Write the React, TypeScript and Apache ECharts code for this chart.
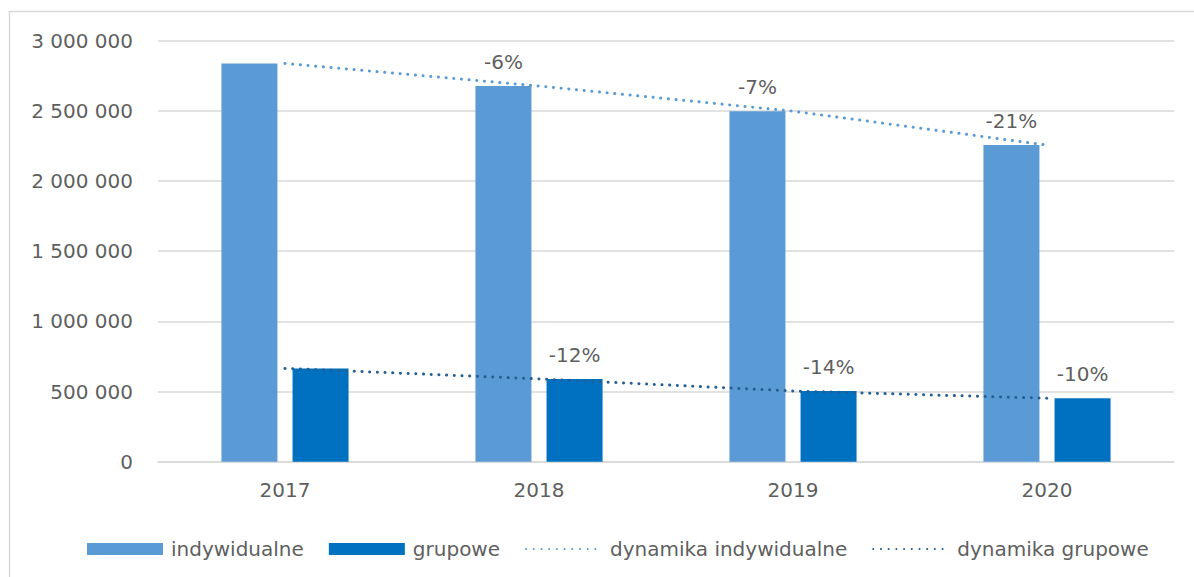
import React, { useEffect, useRef } from "react";
import * as echarts from "echarts";

const years = ["2017", "2018", "2019", "2020"];
const indywidualne = [2838000, 2677000, 2498000, 2256000];
const grupowe = [665000, 590000, 504000, 452000];
const dynamikaIndywidualne = ["", "-6%", "-7%", "-21%"];
const dynamikaGrupowe = ["", "-12%", "-14%", "-10%"];
const yTicks = { min: 0, max: 3000000, interval: 500000 };

const FONT = "DejaVu Sans";
const TXT = "#5f5f5f";

function fmt(v: number): string {
  return String(v).replace(/\B(?=(\d{3})+(?!\d))/g, " ");
}

export default function App() {
  const ref = useRef<HTMLDivElement>(null);
  useEffect(() => {
    if (!ref.current) return;
    const chart = echarts.init(ref.current, null, { renderer: "svg" });
    const dotted = (color: string) => ({
      color,
      width: 3,
      type: [0.1, 7.6] as any,
      cap: "round" as any,
    });
    chart.setOption({
      animation: false,
      backgroundColor: "#ffffff",
      textStyle: { fontFamily: FONT },
      graphic: [
        {
          type: "rect",
          shape: { x: 9.5, y: 11.5, width: 1400, height: 800 },
          style: { fill: "none", stroke: "#d9d9d9", lineWidth: 1.5 },
          silent: true,
        },
      ],
      grid: { left: 158, right: 20, top: 40.7, bottom: 115.3, containLabel: false },
      legend: {
        top: 534,
        left: 82,
        itemWidth: 76,
        itemHeight: 12,
        itemGap: 25,
        textStyle: { color: TXT, fontSize: 20, fontFamily: FONT, padding: [0, 0, 0, 3] },
        data: [
          { name: "indywidualne", icon: "rect" },
          { name: "grupowe", icon: "rect" },
          { name: "dynamika indywidualne", itemStyle: { opacity: 0 } },
          { name: "dynamika grupowe", itemStyle: { opacity: 0 } },
        ],
      },
      xAxis: {
        type: "category",
        data: years,
        axisLine: { lineStyle: { color: "#d9d9d9", width: 1.5 } },
        axisTick: { show: false },
        axisLabel: { color: TXT, fontSize: 20, fontFamily: FONT, margin: 18 },
      },
      yAxis: {
        type: "value",
        min: yTicks.min,
        max: yTicks.max,
        interval: yTicks.interval,
        axisLine: { show: false },
        axisTick: { show: false },
        splitLine: { lineStyle: { color: "#d9d9d9", width: 1.5 } },
        axisLabel: {
          color: TXT,
          fontSize: 20,
          fontFamily: FONT,
          margin: 25,
          formatter: (v: number) => fmt(v),
        },
      },
      series: [
        {
          name: "indywidualne",
          type: "bar",
          data: indywidualne,
          barWidth: 56,
          barGap: "27%",
          itemStyle: { color: "#5B9BD5" },
          label: {
            show: true,
            position: "top",
            distance: 14,
            color: TXT,
            fontSize: 20,
            fontFamily: FONT,
            formatter: (p: any) => dynamikaIndywidualne[p.dataIndex],
          },
        },
        {
          name: "grupowe",
          type: "bar",
          data: grupowe,
          barWidth: 56,
          itemStyle: { color: "#0070C0" },
          label: {
            show: true,
            position: "top",
            distance: 14,
            color: TXT,
            fontSize: 20,
            fontFamily: FONT,
            formatter: (p: any) => dynamikaGrupowe[p.dataIndex],
          },
        },
        {
          name: "dynamika indywidualne",
          type: "line",
          data: indywidualne,
          symbol: "none",
          z: 5,
          itemStyle: { color: "#5B9BD5" },
          lineStyle: dotted("#5B9BD5"),
        },
        {
          name: "dynamika grupowe",
          type: "line",
          data: grupowe,
          symbol: "none",
          z: 5,
          itemStyle: { color: "#255E91" },
          lineStyle: dotted("#255E91"),
        },
      ],
    });
    return () => chart.dispose();
  }, []);
  return (
    <div
      ref={ref}
      style={{ position: "fixed", left: 0, top: 0, width: 1194, height: 577 }}
    />
  );
}
